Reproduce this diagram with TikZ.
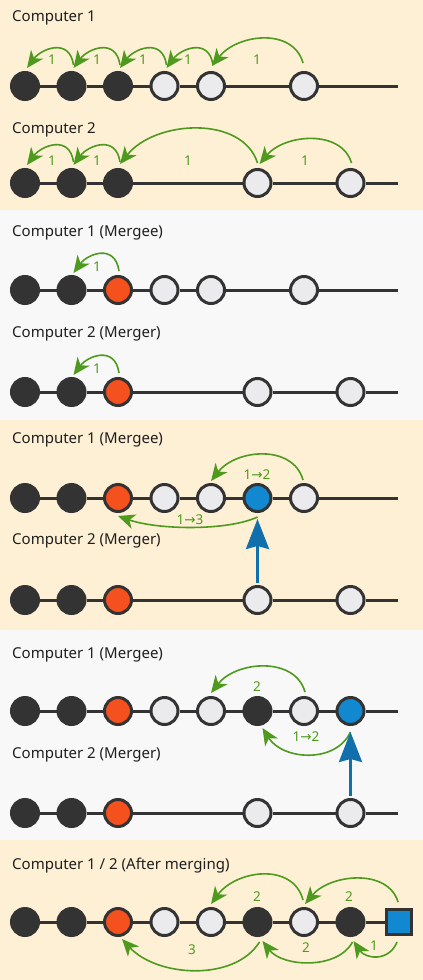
\documentclass[tikz,border=0pt]{standalone}
\usepackage{fontspec}
\setmainfont{Noto Sans}
\newfontfamily\arrowfont{DejaVu Sans}
\usetikzlibrary{arrows.meta,calc}
\definecolor{beige}{HTML}{FEF0D4}
\definecolor{pale}{HTML}{F8F8F8}
\definecolor{ink}{HTML}{333333}
\definecolor{lightc}{HTML}{EBEBEE}
\definecolor{redc}{HTML}{F4511E}
\definecolor{bluec}{HTML}{1188D0}
\definecolor{bluearr}{HTML}{1170AC}
\definecolor{greenc}{HTML}{4E9A1E}
\tikzset{
  cnode/.style={circle, draw=ink, line width=3pt, minimum size=27pt, inner sep=0pt},
  dk/.style={cnode, fill=ink},
  lt/.style={cnode, fill=lightc},
  rd/.style={cnode, fill=redc},
  bl/.style={cnode, fill=bluec},
  sq/.style={rectangle, draw=ink, line width=3pt, minimum size=25pt, inner sep=0pt, fill=bluec},
  track/.style={draw=ink, line width=3pt},
  head/.style={anchor=base west, inner sep=0pt, font=\fontsize{15}{18}\selectfont, text=black!88},
  glab/.style={font=\fontsize{13.5}{16}\selectfont, text=greenc, inner sep=0pt},
  garr/.style={draw=greenc, line width=1.6pt, -{Stealth[length=17pt,width=15pt,inset=5pt]}},
  barr/.style={draw=bluearr, line width=2.7pt, shorten <=2pt, shorten >=6pt, -{Stealth[length=30pt,width=23pt,inset=3pt]}},
}
\newcommand{\ar}{{\arrowfont →}}
\begin{document}
\begin{tikzpicture}[x=1pt,y=-1pt]
\useasboundingbox (0,0) rectangle (423,980);
% backgrounds
\fill[beige] (0,0) rectangle (423,210);
\fill[pale] (0,210) rectangle (423,420);
\fill[beige] (0,420) rectangle (423,630);
\fill[pale] (0,630) rectangle (423,840);
\fill[beige] (0,840) rectangle (423,980);

% ===== Section 1 =====
\node[head] (h1a) at (12,21) {Computer 1};
\node[dk] (s1a0) at (25,86) {};
\node[dk] (s1a1) at (71.5,86) {};
\node[dk] (s1a2) at (118,86) {};
\node[lt] (s1a3) at (164.5,86) {};
\node[lt] (s1a4) at (211,86) {};
\node[lt] (s1a6) at (304,86) {};
\coordinate (s1aend) at (398,86);
\draw[track] (s1a0) -- (s1a1) -- (s1a2) -- (s1a3) -- (s1a4) -- (s1a6) -- (s1aend);
\draw[garr] ($(s1a1)+(2,-21)$) .. controls +(-4,-28) and +(14,-19) .. ($(s1a0)+(2,-18)$);
\draw[garr] ($(s1a2)+(2,-21)$) .. controls +(-4,-28) and +(14,-19) .. ($(s1a1)+(2,-18)$);
\draw[garr] ($(s1a3)+(2,-21)$) .. controls +(-4,-28) and +(14,-19) .. ($(s1a2)+(2,-18)$);
\draw[garr] ($(s1a4)+(2,-21)$) .. controls +(-4,-28) and +(14,-19) .. ($(s1a3)+(2,-18)$);
\draw[garr] ($(s1a6)+(-1,-23)$) .. controls +(-10,-36) and +(25,-32) .. ($(s1a4)+(1,-20)$);
\node[glab] (l1a1) at (52,60) {1};
\node[glab] (l1a2) at (97,60) {1};
\node[glab] (l1a3) at (143,60) {1};
\node[glab] (l1a4) at (188,60) {1};
\node[glab] (l1a5) at (257,60) {1};

\node[head] (h1b) at (12,133) {Computer 2};
\node[dk] (s1b0) at (25,183) {};
\node[dk] (s1b1) at (71.5,183) {};
\node[dk] (s1b2) at (118,183) {};
\node[lt] (s1b5) at (257.5,183) {};
\node[lt] (s1b7) at (350.5,183) {};
\coordinate (s1bend) at (398,183);
\draw[track] (s1b0) -- (s1b1) -- (s1b2) -- (s1b5) -- (s1b7) -- (s1bend);
\draw[garr] ($(s1b1)+(2,-21)$) .. controls +(-4,-28) and +(14,-19) .. ($(s1b0)+(2,-18)$);
\draw[garr] ($(s1b2)+(2,-21)$) .. controls +(-4,-28) and +(14,-19) .. ($(s1b1)+(2,-18)$);
\draw[garr] ($(s1b5)+(0,-20)$) .. controls +(-15,-48) and +(35,-44) .. ($(s1b2)+(2,-19)$);
\draw[garr] ($(s1b7)+(1,-20)$) .. controls +(-10,-34) and +(25,-30) .. ($(s1b5)+(2,-19)$);
\node[glab] (l1b1) at (52,161) {1};
\node[glab] (l1b2) at (97,161) {1};
\node[glab] (l1b3) at (188,161) {1};
\node[glab] (l1b4) at (305,161) {1};

% ===== Section 2 =====
\node[head] (h2a) at (12,236) {Computer 1 (Mergee)};
\node[dk] (s2a0) at (25,290) {};
\node[dk] (s2a1) at (71.5,290) {};
\node[rd] (s2a2) at (118,290) {};
\node[lt] (s2a3) at (164.5,290) {};
\node[lt] (s2a4) at (211,290) {};
\node[lt] (s2a6) at (304,290) {};
\coordinate (s2aend) at (398,290);
\draw[track] (s2a0) -- (s2a1) -- (s2a2) -- (s2a3) -- (s2a4) -- (s2a6) -- (s2aend);
\draw[garr] ($(s2a2)+(1,-19)$) .. controls +(-4,-28) and +(14,-19) .. ($(s2a1)+(2,-17)$);
\node[glab] (l2a1) at (97,267) {1};

\node[head] (h2b) at (12,337) {Computer 2 (Merger)};
\node[dk] (s2b0) at (25,392) {};
\node[dk] (s2b1) at (71.5,392) {};
\node[rd] (s2b2) at (118,392) {};
\node[lt] (s2b5) at (257.5,392) {};
\node[lt] (s2b7) at (350.5,392) {};
\coordinate (s2bend) at (398,392);
\draw[track] (s2b0) -- (s2b1) -- (s2b2) -- (s2b5) -- (s2b7) -- (s2bend);
\draw[garr] ($(s2b2)+(1,-19)$) .. controls +(-4,-28) and +(14,-19) .. ($(s2b1)+(2,-17)$);
\node[glab] (l2b1) at (97,369) {1};

% ===== Section 3 =====
\node[head] (h3a) at (12,443) {Computer 1 (Mergee)};
\node[dk] (s3a0) at (25,498) {};
\node[dk] (s3a1) at (71.5,498) {};
\node[rd] (s3a2) at (118,498) {};
\node[lt] (s3a3) at (164.5,498) {};
\node[lt] (s3a4) at (211,498) {};
\node[bl] (s3a5) at (257.5,498) {};
\node[lt] (s3a6) at (304,498) {};
\coordinate (s3aend) at (398,498);
\draw[track] (s3a0) -- (s3a1) -- (s3a2) -- (s3a3) -- (s3a4) -- (s3a5) -- (s3a6) -- (s3aend);
\draw[garr] ($(s3a6)+(-1,-18)$) .. controls +(-10,-36) and +(25,-32) .. ($(s3a4)+(0,-17)$);
\draw[garr] ($(s3a5)+(0,19)$) .. controls +(-30,14) and +(40,14) .. ($(s3a2)+(0,18)$);
\node[glab] (l3a1) at (257,475) {1\ar2};
\node[glab] (l3a2) at (190,520) {1\ar3};

\node[head] (h3b) at (12,544) {Computer 2 (Merger)};
\node[dk] (s3b0) at (25,600) {};
\node[dk] (s3b1) at (71.5,600) {};
\node[rd] (s3b2) at (118,600) {};
\node[lt] (s3b5) at (257.5,600) {};
\node[lt] (s3b7) at (350.5,600) {};
\coordinate (s3bend) at (398,600);
\draw[track] (s3b0) -- (s3b1) -- (s3b2) -- (s3b5) -- (s3b7) -- (s3bend);
\draw[barr] (s3b5) -- (s3a5);

% ===== Section 4 =====
\node[head] (h4a) at (12,658) {Computer 1 (Mergee)};
\node[dk] (s4a0) at (25,711) {};
\node[dk] (s4a1) at (71.5,711) {};
\node[rd] (s4a2) at (118,711) {};
\node[lt] (s4a3) at (164.5,711) {};
\node[lt] (s4a4) at (211,711) {};
\node[dk] (s4a5) at (257.5,711) {};
\node[lt] (s4a6) at (304,711) {};
\node[bl] (s4a7) at (350.5,711) {};
\coordinate (s4aend) at (398,711);
\draw[track] (s4a0) -- (s4a1) -- (s4a2) -- (s4a3) -- (s4a4) -- (s4a5) -- (s4a6) -- (s4a7) -- (s4aend);
\draw[garr] ($(s4a6)+(1,-19)$) .. controls +(-10,-36) and +(25,-32) .. ($(s4a4)+(0,-18)$);
\draw[garr] ($(s4a7)+(0,21)$) .. controls +(-15,32) and +(20,32) .. ($(s4a5)+(5,17)$);
\node[glab] (l4a1) at (257,687) {2};
\node[glab] (l4a2) at (306,737) {1\ar2};

\node[head] (h4b) at (12,758) {Computer 2 (Merger)};
\node[dk] (s4b0) at (25,813) {};
\node[dk] (s4b1) at (71.5,813) {};
\node[rd] (s4b2) at (118,813) {};
\node[lt] (s4b5) at (257.5,813) {};
\node[lt] (s4b7) at (350.5,813) {};
\coordinate (s4bend) at (398,813);
\draw[track] (s4b0) -- (s4b1) -- (s4b2) -- (s4b5) -- (s4b7) -- (s4bend);
\draw[barr] (s4b7) -- (s4a7);

% ===== Section 5 =====
\node[head] (h5) at (12,869) {Computer 1 / 2 (After merging)};
\node[dk] (s5n0) at (25,922) {};
\node[dk] (s5n1) at (71.5,922) {};
\node[rd] (s5n2) at (118,922) {};
\node[lt] (s5n3) at (164.5,922) {};
\node[lt] (s5n4) at (211,922) {};
\node[dk] (s5n5) at (257.5,922) {};
\node[lt] (s5n6) at (304,922) {};
\node[dk] (s5n7) at (350.5,922) {};
\node[sq] (s5n8) at (399,922) {};
\draw[track] (s5n0) -- (s5n1) -- (s5n2) -- (s5n3) -- (s5n4) -- (s5n5) -- (s5n6) -- (s5n7) -- (s5n8);
\draw[garr] ($(s5n8)+(-1,-20)$) .. controls +(-10,-34) and +(25,-30) .. ($(s5n6)+(1,-18)$);
\draw[garr] ($(s5n6)+(-1,-22)$) .. controls +(-10,-38) and +(25,-34) .. ($(s5n4)+(0,-18)$);
\draw[garr] ($(s5n8)+(-2,20)$) .. controls +(-8,20) and +(12,18) .. ($(s5n7)+(3,19)$);
\draw[garr] ($(s5n7)+(2,20)$) .. controls +(-15,28) and +(20,26) .. ($(s5n5)+(5,19)$);
\draw[garr] ($(s5n5)+(2,20)$) .. controls +(-25,40) and +(35,38) .. ($(s5n2)+(4,17)$);
\node[glab] (l5a) at (349,897) {2};
\node[glab] (l5b) at (257,897) {2};
\node[glab] (l5c) at (374,946) {1};
\node[glab] (l5d) at (306,948) {2};
\node[glab] (l5e) at (192,950) {3};
\end{tikzpicture}
\end{document}
